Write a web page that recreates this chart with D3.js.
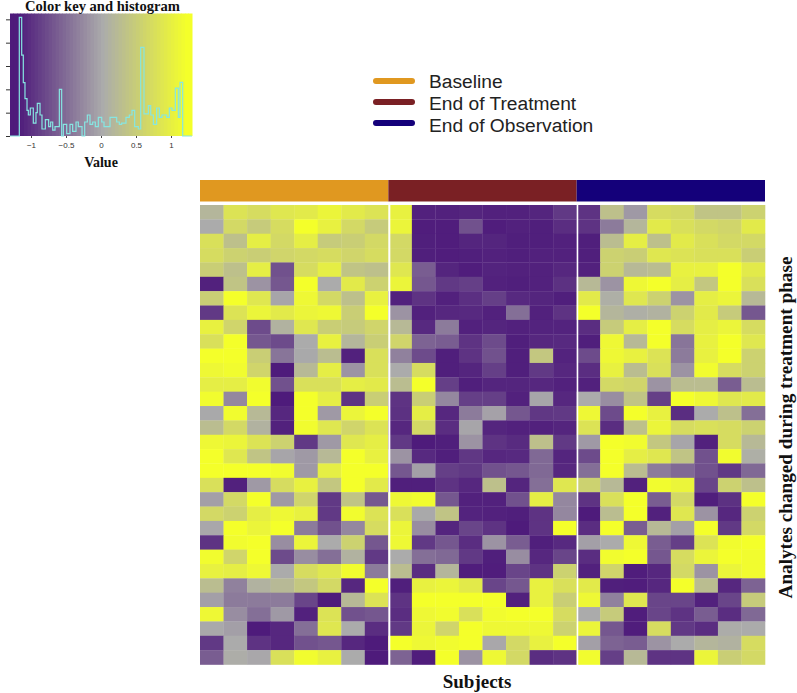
<!DOCTYPE html>
<html><head><meta charset="utf-8">
<script src="https://cdn.jsdelivr.net/npm/d3@7/dist/d3.min.js"></script>
<style>html,body{margin:0;padding:0;background:#fff}svg{display:block}</style></head>
<body><svg id="c" width="797" height="693"></svg>
<script>
const groups = ["Baseline","End of Treatment","End of Observation"];
const groupColors = ["#e09820","#7a2024","#14007a"];
const baseline = [
[.15,.8,.7,.85,.9,1.05,.9,.8],[0,.65,.45,.7,1.2,1,.65,.45],[.75,.3,.95,.65,.95,.45,.5,.65],[.7,.55,.5,.6,.65,.7,.6,.7],
[.5,.3,.95,-.75,.7,.95,.35,.3],[-1.15,.35,-.2,-.7,1.2,0,.9,.55],[.5,1.2,.85,-.05,1.1,.65,.3,1],[-.95,.8,1.05,.9,1.05,1.1,.5,1.2],
[1,.6,-.8,.1,.85,.5,.45,.6],[.75,1.2,-.7,-.8,0,1,.15,.5],[1.2,1.2,.5,-.45,-.02,.25,-1.15,.75],[1.1,1.15,.6,-1.2,.2,.95,-.2,.75],
[.95,.95,1.15,-.75,.75,.75,.95,.9],[1.15,-.3,1.2,-1.2,1.2,.95,-1,.5],[-.02,1.15,.2,-1.1,1.2,-.15,1.05,1.2],[.25,.65,.1,-1.15,1.15,.85,.6,.8],
[1.1,1.05,.8,.55,-.95,-.15,.85,.95],[1.2,.85,.35,-.05,-.15,.2,1.2,1],[1.2,1.2,1.2,1.15,-.15,.95,1.2,1.2],[.75,-1.15,-.15,.7,1,.4,1.2,.9],
[-.1,.65,1.2,-.15,.6,-.95,.35,-.7],[.65,.55,.95,1.1,1,-.95,1.15,.8],[-.03,1.2,1.05,1.2,-.4,-.75,-.3,.7],[-1,1.15,1.2,-.25,1.05,0,.55,-.7],
[1.15,.6,1.2,-.8,-.25,-.5,.1,-.95],[1,.95,1.1,0,.7,.85,1.15,-.4],[.25,-.35,.1,.2,.4,.65,-1.1,1.2],[-.1,-.4,-.4,-.4,-.85,-1.2,.2,.8],
[1.1,-.25,-.5,-.15,-1.15,.8,-.75,-.7],[-.02,-.1,-1.2,-1.1,-.5,.85,0,-1.05],[-.95,0,-1,-1.1,-.75,-.7,-1.1,-1.2],[-.65,.03,-.03,.75,1.15,1,0,-1.2]];
const endOfTreatment = [
[1,-1.15,-1.15,-1.12,-1.15,-1.15,-1.12,-.95],[1.05,-1.18,-1.18,-.75,-1.18,-1.15,-1.17,-1.05],[.65,-1.17,-1.18,-1.12,-1.12,-1.17,-1.17,-1.15],[.65,-1.17,-1.18,-1.17,-1.15,-1.17,-1.15,-1.15],
[.85,-.65,-1.12,-1.18,-1.13,-1.15,-1.15,-1.1],[1.05,-.7,-.95,-.9,-1.15,-1.17,-1.15,-1.02],[-1.15,-1,-1.15,-1.03,-.9,-1.08,-1.12,-1.17],[-.2,-1.15,-1.1,-1.08,-1.15,-.5,-1.15,-1],
[.2,-1.08,-.4,-1.15,-1.12,-1.15,-1.13,-1.13],[.6,-.6,-.65,-1,-.8,-1.17,-1.1,-1.08],[-.35,-.8,-1.17,-1,-.75,-1.17,.4,-1.13],[0,.7,-1.17,-1.12,-.9,-1.17,-.95,-1.1],
[.25,1.2,-.9,-1.17,-1.12,-1.12,-1.1,-1.15],[-1,.5,-.3,-.9,-.9,-1.15,-.05,-1.1],[-1.02,.95,-1.1,-.4,-.08,-.7,-.97,-.95],[-1.1,.65,-1.05,-.05,-1.12,-1.15,-1.15,-1.12],
[-.95,-1.2,-1.17,-.2,-1,-1.07,.3,-.95],[-.2,-1.08,-1.17,-.97,-1.1,-1.08,-.55,-1.12],[-.7,-.1,-.9,-.95,-.75,-.7,-.55,-1.1],[-1.17,-1.17,-1,-1.1,.3,-1.12,-.5,.85],
[1.1,1.15,-.7,-1.15,-1.15,-.75,.95,-.3],[.75,-.02,.35,-1.13,-1.15,-1.17,-1,-.3],[1.05,-.25,-1.12,-.85,-1,-1.2,-1,1.2],[1.1,-.95,-.7,-1.05,-.2,-.65,-1.17,-1.08],
[0,-.5,-.55,-.95,-1.17,-.25,-1.1,-.85],[.25,-1.05,.15,-1.18,-1.18,-.85,-1,.55],[-1.17,1,1.05,.9,-.85,-.7,1,.75],[-1,1.2,1.2,1.2,1.2,-1.15,1,.5],
[-1.05,1.1,1.15,.75,1.15,1.2,1.2,.7],[-.95,1.05,.6,1.2,1.1,1.1,1.1,.55],[1.2,1.1,1.15,1.2,-.03,.65,1,1.2],[-.6,-1.18,1.2,-.2,1.1,.65,-1.05,-1]];
const endOfObservation = [
[-1,.3,-.15,.7,.65,.35,.35,.55],[-1,-.4,.15,.9,.75,.65,.6,.9],[-1.17,.25,.95,.3,.9,.75,.65,.65],[-1.17,.55,.5,.85,.8,.75,.75,.5],
[-1.15,.55,.2,.25,1,1,1.2,.9],[.2,-.2,1.1,1.2,.95,.4,1.2,.75],[.9,.05,.85,.55,-.2,.95,1.05,.2],[1.2,.15,.05,.1,.55,.9,.45,-.7],
[-1.05,.45,.95,1.2,.7,.95,1.05,.7],[-1.17,1.1,.2,1.2,-.45,1,1.2,.85],[-.8,1.1,1,.8,-.4,1,1.2,.55],[-1.05,1,.25,.75,-.2,1.15,.7,.55],
[-1.15,.65,.6,-.2,.25,.25,-.65,.25],[0,-.25,.35,-.9,1.2,1.1,.85,.9],[1.1,-.8,1.2,1,-1.05,0,.3,-.5],[.8,-1.05,.3,1.05,.7,.75,.7,.55],
[-.15,1.2,1.15,.4,-.05,-1.15,.7,.2],[-.8,1.2,.95,.85,.35,-.75,1.15,.05],[-.5,1.2,.25,-.4,-.55,-.75,-.95,-.55],[.55,.2,-1.15,1.15,1.05,-.85,.55,.3],
[-1,.75,1.2,-.65,.65,-1.17,-1.02,1.2],[-1.2,.25,1.2,-1.15,.85,-.2,-1.1,.55],[-1.05,1.2,-.65,.2,-.1,1.2,-.95,.65],[-.1,0,1.1,-.65,-.9,.8,1.15,1.2],
[-1.05,1.15,1.2,-.7,.7,1.05,1.2,1.15],[-1.15,.6,-1.18,-1.1,.65,-.2,1.05,1.15],[.9,-1.17,-1.18,-1.1,1.2,.25,-1.1,-.6],[1.1,-.35,.85,-.85,-.85,-1.15,-.85,.45],
[0,.45,-1.18,-.85,-1,-.65,-1.05,-.55],[1.05,-.7,-1.18,.7,-.95,-1.05,.02,0],[-.1,-.6,-.65,-.2,0,.15,.1,.7],[1.15,-.9,.2,-1,-1,1.05,.5,.65]];
const histBreaks = [-1.167,-1.133,-1.11,-1.086,-1.057,-1.038,-1.01,-.967,-.929,-.91,-.871,-.843,-.795,-.748,-.719,-.69,-.657,-.595,-.562,-.538,-.49,-.443,-.405,-.357,-.324,-.271,-.233,-.195,-.157,-.119,-.081,-.038,.01,.043,.129,.176,.224,.262,.295,.357,.405,.443,.481,.533,.567,.614,.676,.71,.748,.795,.833,.871,.938,.976,1.014,1.062,1.105,1.129,1.167];
const histHeights = [5.08,3.47,2.29,1.6,1.1,.9,1.2,.55,1,1.4,.9,.3,.7,.4,.6,.25,.4,2,0,.5,.1,.5,.2,.6,.4,0,.6,.9,.5,.6,.4,.8,.6,.4,.8,.8,.6,.5,.55,.8,.9,1.1,.4,.3,3.8,.95,1.3,.9,.5,1.2,.8,.9,.8,1.2,1.1,2.05,.8,2.3];
const keyTicks = [-1,-.5,0,.5,1];
const countTicks = [0,1,2,3,4,5];

const svg = d3.select("#c");
const serif = "'Liberation Serif',serif", sans = "'Liberation Sans',sans-serif";
const color = d3.scaleLinear().domain([-1.2,0,1.2]).range(["#4e1b7b","#ababab","#f4ff2a"]).clamp(true);

// colour key
const kx = d3.scaleLinear().domain([-1.3,1.3]).range([10,192]);
const ky = d3.scaleLinear().domain([0,5.25]).range([136,13.5]);
const key = svg.append("g");
const stops = d3.range(-1.3,1.3,0.05);
key.selectAll("rect").data(stops).join("rect")
  .attr("x",d=>kx(d)).attr("y",ky(5.25)).attr("width",kx(.05)-kx(0)+.5).attr("height",ky(0)-ky(5.25))
  .attr("fill",d=>color(d));
const histPts = [[-1.3,0],[histBreaks[0],0]];
histHeights.forEach((h,i)=>{histPts.push([histBreaks[i],h]);histPts.push([histBreaks[i+1],h]);});
histPts.push([histBreaks[histBreaks.length-1],0],[1.3,0]);
key.append("path").attr("d",d3.line().x(d=>kx(d[0])).y(d=>ky(d[1]))(histPts))
  .attr("fill","none").attr("stroke","#86e6e2").attr("stroke-width",1.2);
const ax = key.append("g").attr("transform","translate(0,136)")
  .call(d3.axisBottom(kx).tickValues(keyTicks).tickSize(2).tickFormat(d=>d===0?"0":String(d).replace("-","\u2212")));
ax.select(".domain").remove();
ax.selectAll("line").attr("stroke","#444");
ax.selectAll("text").attr("font-family",sans).attr("font-size",8).attr("fill","#333").attr("dy","0.9em");
const ay = key.append("g").attr("transform","translate(10,0)")
  .call(d3.axisLeft(ky).tickValues(countTicks).tickSize(4).tickFormat(""));
ay.select(".domain").attr("stroke","none");
ay.selectAll("line").attr("stroke","#333");
svg.append("text").text("Color key and histogram").attr("x",102.5).attr("y",10.5)
  .attr("text-anchor","middle").attr("font-family",serif).attr("font-weight","bold").attr("font-size",14.6).attr("fill","#111");
svg.append("text").text("Value").attr("x",101).attr("y",167)
  .attr("text-anchor","middle").attr("font-family",serif).attr("font-weight","bold").attr("font-size",14).attr("fill","#111");

// legend
const ly = d3.scalePoint().domain(groups).range([81,123]);
const ltext = d3.scalePoint().domain(groups).range([88,132]);
const lg = svg.append("g").selectAll("g").data(groups).join("g");
lg.append("line").attr("x1",376).attr("x2",412).attr("y1",d=>ly(d)).attr("y2",d=>ly(d))
  .attr("stroke",(d,i)=>groupColors[i]).attr("stroke-width",6).attr("stroke-linecap","round");
lg.append("text").text(d=>d).attr("x",429).attr("y",d=>ltext(d))
  .attr("font-family",sans).attr("font-size",19.2).attr("fill","#222");

// heatmap
const nCols = 24, nRows = baseline.length;
const x = d3.scaleBand().domain(d3.range(nCols)).range([200,765]);
const y = d3.scaleBand().domain(d3.range(nRows)).range([205,664.5]);
const cells = [];
[baseline,endOfTreatment,endOfObservation].forEach((m,g)=>m.forEach((row,r)=>row.forEach((v,c)=>cells.push({r,c:g*8+c,v}))));
svg.append("g").selectAll("rect").data(cells).join("rect")
  .attr("x",d=>x(d.c)).attr("y",d=>y(d.r)).attr("width",x.bandwidth()+.3).attr("height",y.bandwidth()+.3)
  .attr("fill",d=>color(d.v));
svg.append("g").selectAll("rect").data(groups).join("rect")
  .attr("x",(d,i)=>x(i*8)).attr("y",180).attr("width",x.bandwidth()*8).attr("height",21.5)
  .attr("fill",(d,i)=>groupColors[i]);
svg.append("g").selectAll("rect").data([8,16]).join("rect")
  .attr("x",d=>x(d)).attr("y",203).attr("width",d=>d===8?2:1.6).attr("height",462).attr("fill","#fff");

svg.append("text").text("Subjects").attr("x",477).attr("y",688)
  .attr("text-anchor","middle").attr("font-family",serif).attr("font-weight","bold").attr("font-size",19).attr("fill","#111");
svg.append("text").text("Analytes changed during treatment phase")
  .attr("transform","translate(792,427.5) rotate(-90)")
  .attr("text-anchor","middle").attr("font-family",serif).attr("font-weight","bold").attr("font-size",19.2).attr("fill","#111");
</script></body></html>
